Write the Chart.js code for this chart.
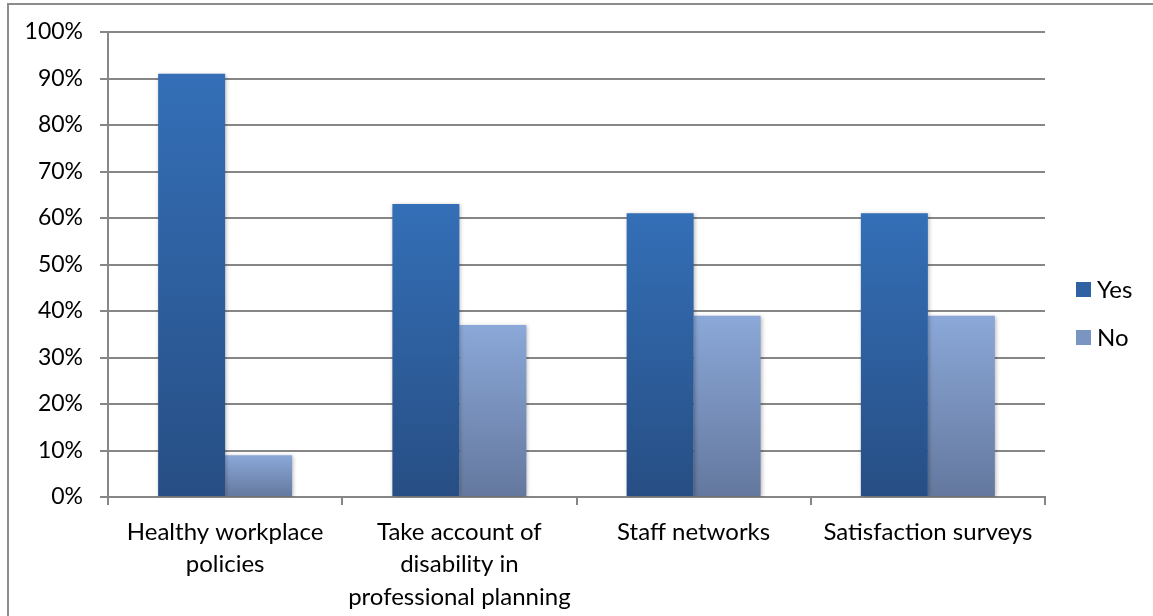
<!DOCTYPE html>
<html>
<head>
<meta charset="utf-8">
<script src="https://cdn.jsdelivr.net/npm/chart.js@4"></script>
<style>
  html, body { margin: 0; padding: 0; background: #fff; }
  #wrap { position: relative; width: 1153px; height: 616px; overflow: hidden; }
  #frame { position: absolute; left: 7px; top: 3px; width: 1200px; height: 700px; border: 2px solid #8c8c8c; }
  #cv { position: absolute; left: 0; top: 0; }
</style>
</head>
<body>
<div id="wrap">
  <div id="frame"></div>
  <canvas id="cv" width="1153" height="616"></canvas>
</div>
<script>
// chart data
var categories = [
  ["Healthy workplace", "policies"],
  ["Take account of", "disability in", "professional planning"],
  "Staff networks",
  "Satisfaction surveys"
];
var yesValues = [91, 63, 61, 61];
var noValues = [9, 37, 39, 39];
var seriesNames = ["Yes", "No"];
var legendColors = ["#2f62a3", "#7b95c2"];

// per-bar vertical gradient, top -> bottom
function barGradient(top, bottom) {
  return function (ctx) {
    var chart = ctx.chart;
    if (!chart.chartArea || ctx.type !== "data") return top;
    var y = chart.scales.y;
    var g = chart.ctx.createLinearGradient(0, y.getPixelForValue(ctx.raw), 0, y.getPixelForValue(0));
    g.addColorStop(0, top);
    g.addColorStop(1, bottom);
    return g;
  };
}

// soft shadow round the bars
var barShadow = {
  id: "barShadow",
  beforeDatasetsDraw: function (chart) {
    var c = chart.ctx;
    c.save();
    c.shadowColor = "rgba(0,0,0,0.28)";
    c.shadowBlur = 4;
    c.shadowOffsetX = 1;
    c.shadowOffsetY = 1;
  },
  afterDatasetsDraw: function (chart) {
    chart.ctx.restore();
  }
};

var fam = "Lato, 'Open Sans', sans-serif";
var font = { family: fam, size: 23 };
var catFont = { family: fam, size: 24, lineHeight: 1.35 };

// legend on the right, excel style
var sideLegend = {
  id: "sideLegend",
  afterDraw: function (chart) {
    var c = chart.ctx;
    var x = chart.chartArea.right + 31;
    c.save();
    c.font = catFont.size + "px " + fam;
    c.textBaseline = "middle";
    chart.data.datasets.forEach(function (ds, i) {
      var y = 289 + i * 48;
      c.fillStyle = legendColors[i];
      c.fillRect(x, y - 7, 15, 15);
      c.fillStyle = "#000";
      c.fillText(ds.label, x + 21, y + 1);
    });
    c.restore();
  }
};

new Chart(document.getElementById("cv"), {
  type: "bar",
  data: {
    labels: categories,
    datasets: [
      {
        label: seriesNames[0],
        data: yesValues,
        backgroundColor: barGradient("#346fb7", "#274e84"),
        categoryPercentage: 0.572,
        barPercentage: 1
      },
      {
        label: seriesNames[1],
        data: noValues,
        backgroundColor: barGradient("#8ba8d8", "#64789e"),
        categoryPercentage: 0.572,
        barPercentage: 1
      }
    ]
  },
  options: {
    responsive: false,
    animation: false,
    layout: { padding: { left: 0, top: 32, right: 108, bottom: 0 } },
    plugins: {
      tooltip: { enabled: false },
      legend: { display: false }
    },
    scales: {
      x: {
        afterFit: function (s) { s.height = 119; },
        grid: { offset: true, drawOnChartArea: false, color: "#868686", lineWidth: 2, tickLength: 8 },
        border: { color: "#868686", width: 2 },
        ticks: {
          font: catFont,
          color: "#000",
          padding: 11,
          maxRotation: 0,
          autoSkip: false
        }
      },
      y: {
        min: 0,
        max: 100,
        afterFit: function (s) { s.width = 108; },
        grid: { color: "#868686", lineWidth: 2, tickLength: 8 },
        border: { color: "#868686", width: 2 },
        ticks: {
          stepSize: 10,
          font: font,
          color: "#000",
          padding: 17,
          callback: function (v) { return v + "%"; }
        }
      }
    }
  },
  plugins: [barShadow, sideLegend]
});
</script>
</body>
</html>
